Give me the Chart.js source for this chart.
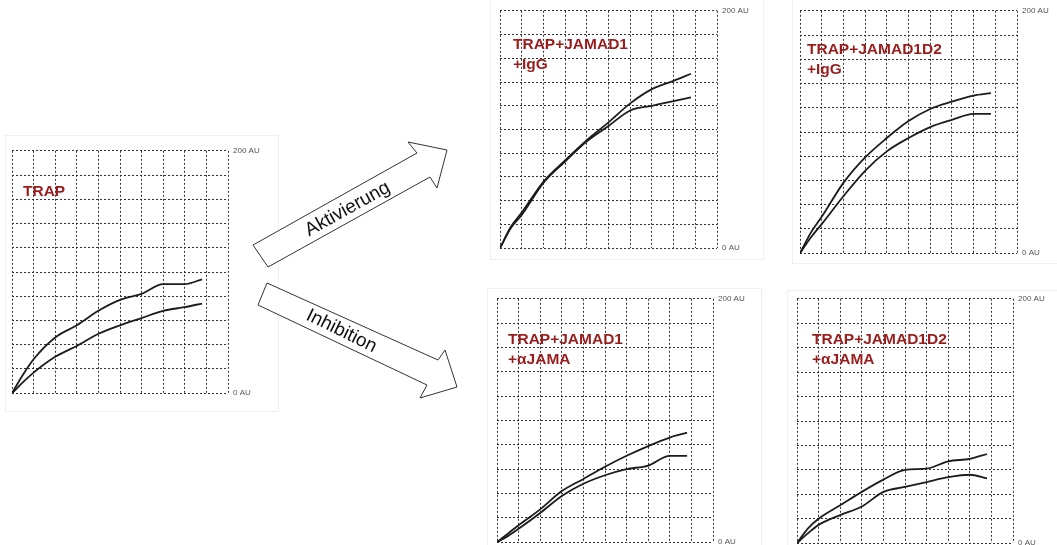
<!DOCTYPE html>
<html>
<head>
<meta charset="utf-8">
<script src="https://cdn.jsdelivr.net/npm/chart.js@4/dist/chart.umd.min.js"></script>
<style>
  body { margin: 0; background: #fff; width: 1057px; height: 545px; position: relative; overflow: hidden; font-family: Arial, "Liberation Sans", sans-serif; }
  .frame { position: absolute; border: 1px solid #efefef; }
  .panel { position: absolute; }
  svg { position: absolute; left: 0; top: 0; }
</style>
</head>
<body>
<div class="frame" style="left:5px;top:135px;width:272px;height:275px"></div>
<div class="frame" style="left:490px;top:-1px;width:272px;height:259px"></div>
<div class="frame" style="left:792px;top:-1px;width:266px;height:263px"></div>
<div class="frame" style="left:487px;top:288px;width:273px;height:258px"></div>
<div class="frame" style="left:787px;top:290px;width:271px;height:256px"></div>

<div class="panel" id="p0"><canvas id="c0"></canvas></div>
<div class="panel" id="p1"><canvas id="c1"></canvas></div>
<div class="panel" id="p2"><canvas id="c2"></canvas></div>
<div class="panel" id="p3"><canvas id="c3"></canvas></div>
<div class="panel" id="p4"><canvas id="c4"></canvas></div>

<svg width="1057" height="545">
  <polygon points="253,245 417,153 408,142 447,150 437,188 430,177 268,267" fill="#fff" stroke="#333" stroke-width="1"/>
  <text x="0" y="0" transform="translate(347,208) rotate(-29)" text-anchor="middle" dominant-baseline="central" font-family="Arial, Liberation Sans" font-size="19" fill="#111">Aktivierung</text>
  <polygon points="267,283 438,360 445,350 457,387 420,398 427,385 258,305" fill="#fff" stroke="#333" stroke-width="1"/>
  <text x="0" y="0" transform="translate(342,330) rotate(26)" text-anchor="middle" dominant-baseline="central" font-family="Arial, Liberation Sans" font-size="19" fill="#111">Inhibition</text>
</svg>

<script>
// time points (grid units, 10 columns)
var xPts = [0, 0.5, 1, 2, 3, 4, 5, 6, 7, 8, 8.8];

// aggregation traces (AU, 0-200)
var trapUpper = [0, 15, 28, 46, 56, 68, 77, 82, 90, 90, 94];
var trapLower = [0, 9, 17, 30, 39, 49, 56, 62, 68, 71, 74];

var j1IgGUpper = [0, 18, 30, 56, 74, 91, 106, 122, 134, 141, 147];
var j1IgGLower = [0, 17, 28, 55, 73, 90, 103, 116, 120, 124, 127];

var j1d2IgGUpper = [0, 17, 30, 58, 79, 95, 109, 119, 125, 130, 132];
var j1d2IgGLower = [0, 13, 24, 47, 68, 84, 95, 104, 110, 115, 115];

var j1JamaUpper = [0, 7, 14, 27, 42, 52, 62, 71, 79, 86, 90];
var j1JamaLower = [0, 5, 11, 24, 38, 48, 55, 60, 63, 71, 71];

var j1d2JamaUpper = [0, 12, 20, 31, 42, 52, 60, 61, 67, 69, 73];
var j1d2JamaLower = [0, 8, 15, 23, 30, 42, 46, 50, 54, 56, 53];

var yTicks = [0, 200];

var panels = [
  { id: 0, box: [12, 150, 216, 243], label: ['TRAP'], lx: 11, ly: 41, up: trapUpper, lo: trapLower },
  { id: 1, box: [500, 10, 217, 238], label: ['TRAP+JAMAD1', '+IgG'], lx: 13, ly: 34, up: j1IgGUpper, lo: j1IgGLower },
  { id: 2, box: [800, 10, 217, 243], label: ['TRAP+JAMAD1D2', '+IgG'], lx: 7, ly: 39, up: j1d2IgGUpper, lo: j1d2IgGLower },
  { id: 3, box: [497, 298, 216, 244], label: ['TRAP+JAMAD1', '+\u03b1JAMA'], lx: 11, ly: 41, up: j1JamaUpper, lo: j1JamaLower },
  { id: 4, box: [797, 298, 216, 245], label: ['TRAP+JAMAD1D2', '+\u03b1JAMA'], lx: 15, ly: 41, up: j1d2JamaUpper, lo: j1d2JamaLower }
];

var PAD = 6, AXW = 45, TOPIN = 9, BOTIN = 10;

function pts(vals) {
  return vals.map(function (v, i) { return { x: xPts[i], y: v }; });
}

panels.forEach(function (p) {
  var div = document.getElementById('p' + p.id);
  div.style.left = (p.box[0] - 2) + 'px';
  div.style.top = (p.box[1] - TOPIN) + 'px';
  div.style.width = (p.box[2] + 2 + AXW) + 'px';
  div.style.height = (p.box[3] + TOPIN + BOTIN) + 'px';

  var labelPlugin = {
    id: 'panelLabel' + p.id,
    afterDraw: function (chart) {
      var ctx = chart.ctx, a = chart.chartArea;
      ctx.save();
      ctx.font = 'bold 15.5px Arial, "Liberation Sans", sans-serif';
      ctx.fillStyle = '#9a1d1d';
      ctx.textBaseline = 'middle';
      p.label.forEach(function (t, i) {
        ctx.fillText(t, a.left + p.lx, a.top + p.ly + i * 20);
      });
      ctx.restore();
    }
  };

  new Chart(document.getElementById('c' + p.id), {
    type: 'line',
    data: {
      datasets: [
        { data: pts(p.up), borderColor: '#1c1c1c', borderWidth: 1.8, pointRadius: 0, fill: false, cubicInterpolationMode: 'monotone' },
        { data: pts(p.lo), borderColor: '#1c1c1c', borderWidth: 1.8, pointRadius: 0, fill: false, cubicInterpolationMode: 'monotone' }
      ]
    },
    options: {
      responsive: true,
      maintainAspectRatio: false,
      animation: false,
      layout: { padding: { top: PAD, bottom: PAD, left: 2, right: 0 } },
      plugins: { legend: { display: false }, tooltip: { enabled: false } },
      scales: {
        x: {
          type: 'linear', min: 0, max: 10,
          ticks: { stepSize: 1, display: false },
          grid: { color: '#333', lineWidth: 1, drawTicks: false },
          border: { display: false, dash: [2, 2] }
        },
        y: {
          position: 'right', min: 0, max: 200,
          afterFit: function (s) { s.width = AXW; },
          ticks: {
            stepSize: 20, padding: 5, color: '#555',
            font: { family: 'Arial, "Liberation Sans", sans-serif', size: 8 },
            callback: function (v) { return yTicks.indexOf(v) >= 0 ? v + ' AU' : ''; }
          },
          grid: { color: '#333', lineWidth: 1, drawTicks: false },
          border: { display: false, dash: [2, 2] }
        }
      }
    },
    plugins: [labelPlugin]
  });
});
</script>
</body>
</html>
